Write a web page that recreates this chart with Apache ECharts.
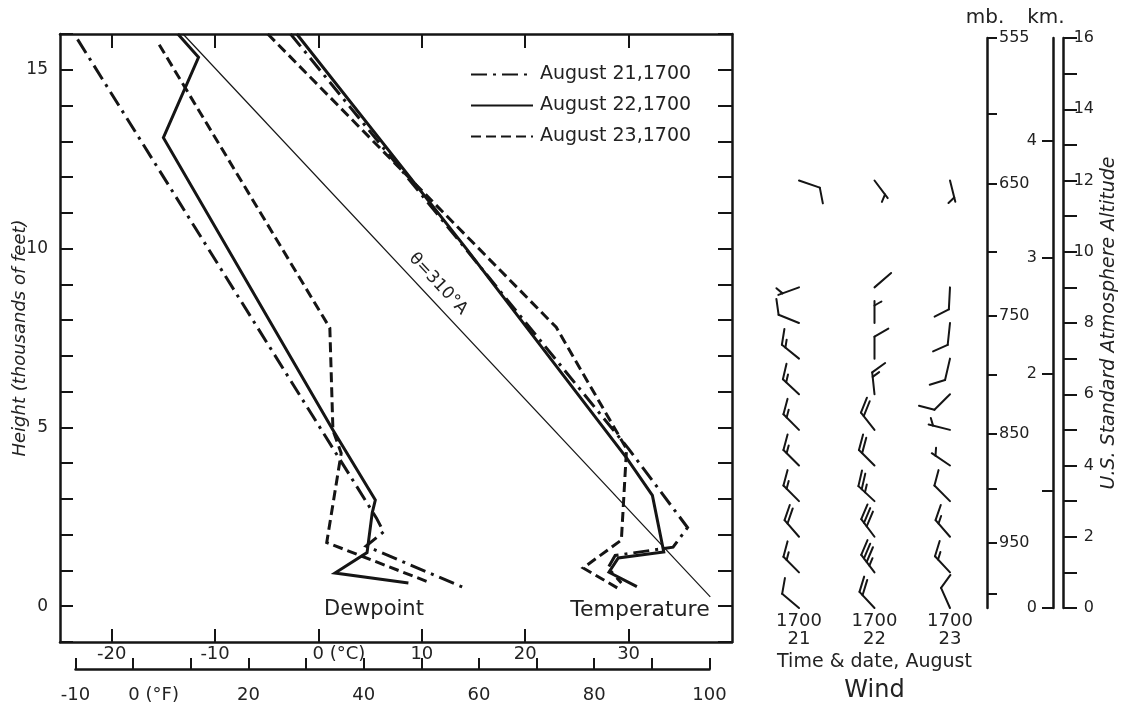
<!DOCTYPE html>
<html><head><meta charset="utf-8">
<script src="https://cdn.jsdelivr.net/npm/echarts@6/dist/echarts.min.js"></script>
<style>html,body{margin:0;padding:0;background:#fff}#c{width:1126px;height:719px}</style>
</head><body><div id="c"></div>
<script>
// ---------- data ----------
const dayNames = ['August 21,1700', 'August 22,1700', 'August 23,1700'];
// [temperature °C, height (thousands of feet)]
const temp21 = [[-2.7,16],[30.0,4.4],[35.7,2.2],[34.3,1.65],[28.7,1.42],[28.0,1.07],[29.3,0.65]];
const temp22 = [[-2.1,16],[14.3,10.0],[29.8,4.15],[32.3,3.1],[33.4,1.52],[29.0,1.35],[28.1,0.95],[30.8,0.55]];
const temp23 = [[-4.9,16],[23.0,7.8],[29.8,4.4],[29.3,1.85],[25.6,1.07],[29.1,0.48]];
const dew21 = [[-23.3,15.85],[5.6,2.47],[6.3,2.08],[4.6,1.68],[13.9,0.54]];
const dew22 = [[-13.6,16],[-11.6,15.35],[-15.0,13.1],[1.4,4.93],[5.5,2.97],[5.2,2.61],[4.7,1.5],[1.6,0.93],[8.7,0.65]];
const dew23 = [[-15.4,15.7],[1.1,7.78],[1.4,4.92],[2.2,4.28],[0.8,1.78],[10.6,0.68]];
const theta310 = [[-13.1,16],[37.9,0.26]];

const cTicks = [-20,-10,0,10,20,30];
const fTickLabels = [-10,0,20,40,60,80,100];
const heightLabels = [0,5,10,15];

const mbLevels  = [555, 600, 650, 700, 750, 800, 850, 900, 950, 1000];
const mbHeights = [16, 13.87, 11.9, 9.99, 8.2, 6.54, 4.88, 3.34, 1.82, 0.39];
const mbLabeled = [555, 650, 750, 850, 950];
const kmTicks = [0,1,2,3,4];
const kmLabels = [0,2,3,4];

// wind: station heights (thousands of feet), direction (deg), speed (knots)
const windHeights = [0,1,2,3,4,5,6,7,8,9,12];
const wind21Dir = [310,315,319,315,315,315,313,309,292,250,109];
const wind21Spd = [10,15,20,15,15,15,15,15,10,5,10];
const wind22Dir = [317,323,323,313,315,322,354,0,0,49,143];
const wind22Spd = [20,35,30,25,20,20,15,10,5,0,5];
const wind23Dir = [336,317,319,315,304,284,225,193,186,183,166];
const wind23Spd = [10,15,15,10,5,5,10,10,10,10,5];
const windDates = [21,22,23];

// ---------- helpers ----------
const FONT = 'DejaVu Sans';
const INK = '#151515';
const windData = [];
[[wind21Dir,wind21Spd],[wind22Dir,wind22Spd],[wind23Dir,wind23Spd]].forEach((w,ci)=>{
  windHeights.forEach((h,i)=>windData.push([windDates[ci], h, w[0][i], w[1][i]]));
});
function mbLabelFor(v){
  let best=0, bd=1e9;
  mbHeights.forEach((h,i)=>{const d=Math.abs(h-v); if(d<bd){bd=d;best=i;}});
  return String(mbLevels[best]);
}
const mbLabelHeights = mbLabeled.map(l=>mbHeights[mbLevels.indexOf(l)]);

function barbRender(params, api){
  const col=api.value(0), h=api.value(1), dir=api.value(2), spd=api.value(3);
  const p = api.coord([col,h]);
  const L=22, F=16, HF=8, gap=4.5;
  const r = dir*Math.PI/180, ux=Math.sin(r), uy=-Math.cos(r);
  const ex=p[0]+ux*L, ey=p[1]+uy*L;
  const br=(dir+60)*Math.PI/180, bx=Math.sin(br), by=-Math.cos(br);
  const st={stroke:INK, lineWidth:2, lineCap:'round'};
  const ch=[{type:'line', shape:{x1:p[0],y1:p[1],x2:ex,y2:ey}, style:st}];
  const n=Math.floor(spd/10), half=(spd%10)>=5;
  let k=0;
  for(let i=0;i<n;i++,k++){
    const sx=ex-ux*gap*k, sy=ey-uy*gap*k;
    ch.push({type:'line', shape:{x1:sx,y1:sy,x2:sx+bx*F,y2:sy+by*F}, style:st});
  }
  if(half){
    const kk = k===0?1:k;
    const sx=ex-ux*gap*kk, sy=ey-uy*gap*kk;
    ch.push({type:'line', shape:{x1:sx,y1:sy,x2:sx+bx*HF,y2:sy+by*HF}, style:st});
  }
  return {type:'group', children:ch};
}

function lineSeries(name, data, dash, width){
  return {type:'line', name, data, xAxisIndex:0, yAxisIndex:0, symbol:'none', color:INK,
    lineStyle:{color:INK, width:width||3, type:dash, cap:'butt', join:'miter'}, silent:true, z:3};
}
const DASHDOT=[16,6,3,6], DASHED=[10,5];

const axisLineStyle={onZero:false, lineStyle:{color:INK,width:2.5}};
const tickStyle={color:INK,width:2};
const labelStyle={color:'#222', fontFamily:FONT, fontSize:18};

const chart = echarts.init(document.getElementById('c'));
chart.setOption({
  animation:false,
  backgroundColor:'#fff',
  grid:[
    {left:60, top:34, width:672, height:608, outerBoundsMode:'none', containLabel:false},
    {left:75.5, top:668, width:634, height:1, outerBoundsMode:'none', containLabel:false},
    {left:987, top:38, width:76, height:570, outerBoundsMode:'none', containLabel:false},
    {left:723.5, top:38, width:302, height:570, outerBoundsMode:'none', containLabel:false}
  ],
  xAxis:[
    {gridIndex:0, type:'value', position:'bottom', min:-25, max:40,
      axisLine:axisLineStyle, splitLine:{show:false},
      axisTick:{customValues:cTicks, inside:true, length:13, lineStyle:tickStyle},
      axisLabel:{customValues:cTicks, margin:3, ...labelStyle,
        formatter:v=> v===0 ? '{z|0 (°C)}' : String(v),
        rich:{z:{padding:[0,0,0,41], fontFamily:FONT, fontSize:18, color:'#222'}}}},
    {gridIndex:0, type:'value', position:'top', min:-25, max:40,
      axisLine:axisLineStyle, splitLine:{show:false},
      axisTick:{customValues:cTicks, inside:true, length:14, lineStyle:tickStyle},
      axisLabel:{show:false}},
    {gridIndex:1, type:'value', position:'bottom', min:-10, max:100, interval:10,
      axisLine:axisLineStyle, splitLine:{show:false},
      axisTick:{inside:true, length:11, lineStyle:tickStyle},
      axisLabel:{customValues:fTickLabels, margin:17, ...labelStyle,
        formatter:v=> v===0 ? '{z|0 (°F)}' : String(v),
        rich:{z:{padding:[0,0,0,41], fontFamily:FONT, fontSize:18, color:'#222'}}}},
    {gridIndex:2, type:'value', show:false, min:0, max:1},
    {gridIndex:3, type:'value', min:20, max:24,
      axisLine:{show:false}, axisTick:{show:false}, splitLine:{show:false},
      axisLabel:{customValues:windDates, margin:4, color:'#222', fontFamily:FONT, fontSize:18, lineHeight:18,
        formatter:v=>'1700\n'+v},
      name:'{a|Time & date, August}\n{b|Wind}', nameLocation:'middle', nameGap:37,
      nameTextStyle:{rich:{a:{fontFamily:FONT, fontSize:19, lineHeight:26, color:'#222'},
                           b:{fontFamily:FONT, fontSize:24, lineHeight:30, color:'#222'}}}}
  ],
  yAxis:[
    {gridIndex:0, type:'value', position:'left', min:-1, max:16, interval:1,
      axisLine:axisLineStyle, splitLine:{show:false},
      axisTick:{inside:true, length:13, lineStyle:tickStyle},
      axisLabel:{customValues:heightLabels, margin:12, ...labelStyle, fontSize:17},
      name:'Height (thousands of feet)', nameLocation:'middle', nameGap:31, nameRotate:90,
      nameMoveOverlap:false,
      nameTextStyle:{fontFamily:FONT, fontSize:18, fontStyle:'italic', color:'#222'}},
    {gridIndex:0, type:'value', position:'right', min:-1, max:16, interval:1,
      axisLine:axisLineStyle, splitLine:{show:false},
      axisTick:{inside:true, length:14, lineStyle:tickStyle},
      axisLabel:{show:false}},
    {gridIndex:1, type:'value', show:false, min:0, max:1},
    {gridIndex:2, type:'value', position:'left', min:0, max:16,
      axisLine:axisLineStyle, splitLine:{show:false},
      axisTick:{customValues:mbHeights, inside:true, length:10, lineStyle:tickStyle},
      axisLabel:{customValues:mbLabelHeights, inside:true, margin:12, color:'#222', fontFamily:FONT, fontSize:16,
        formatter:v=>mbLabelFor(v)}},
    {gridIndex:2, type:'value', position:'right', offset:-10, min:0, max:4.8768,
      axisLine:axisLineStyle, splitLine:{show:false},
      axisTick:{customValues:kmTicks, inside:true, length:11, lineStyle:tickStyle},
      axisLabel:{customValues:kmLabels, inside:true, margin:16, color:'#222', fontFamily:FONT, fontSize:16}},
    {gridIndex:2, type:'value', position:'right', offset:0, min:0, max:16, interval:1,
      axisLine:axisLineStyle, splitLine:{show:false},
      axisTick:{inside:false, length:14, lineStyle:tickStyle},
      axisLabel:{margin:31, align:'right', color:'#222', fontFamily:FONT, fontSize:16,
        formatter:v=> (v%2===0 ? String(v) : '')},
      name:'U.S. Standard Atmosphere Altitude', nameLocation:'middle', nameGap:37, nameRotate:90,
      nameMoveOverlap:false,
      nameTextStyle:{fontFamily:FONT, fontSize:19, fontStyle:'italic', color:'#222'}},
    {gridIndex:3, type:'value', show:false, min:0, max:16}
  ],
  legend:{data:dayNames, orient:'vertical', left:465, top:60, itemWidth:62, itemHeight:14, itemGap:12,
    selectedMode:false, itemStyle:{opacity:0},
    textStyle:{fontFamily:FONT, fontSize:19, color:'#222', padding:[0,0,0,2]}},
  graphic:[
    {type:'text', x:374, y:610, style:{text:'Dewpoint', fontFamily:FONT, fontSize:21, fill:'#222', align:'center', verticalAlign:'middle'}},
    {type:'text', x:640, y:610, style:{text:'Temperature', fontFamily:FONT, fontSize:22, fill:'#222', align:'center', verticalAlign:'middle'}},
    {type:'text', x:438, y:284, rotation:-0.819, style:{text:'θ=310°A', fontFamily:FONT, fontSize:17, fill:'#222', align:'center', verticalAlign:'middle'}},
    {type:'text', x:985, y:18, style:{text:'mb.', fontFamily:FONT, fontSize:20, fill:'#222', align:'center', verticalAlign:'middle'}},
    {type:'text', x:1046, y:18, style:{text:'km.', fontFamily:FONT, fontSize:20, fill:'#222', align:'center', verticalAlign:'middle'}}
  ],
  series:[
    lineSeries(dayNames[0], temp21, DASHDOT),
    lineSeries(dayNames[1], temp22, 'solid'),
    lineSeries(dayNames[2], temp23, DASHED),
    lineSeries(dayNames[0], dew21, DASHDOT),
    lineSeries(dayNames[1], dew22, 'solid'),
    lineSeries(dayNames[2], dew23, DASHED),
    {type:'line', name:'theta', data:theta310, xAxisIndex:0, yAxisIndex:0, symbol:'none', silent:true,
      lineStyle:{color:INK, width:1.2}, z:2},
    {type:'custom', name:'wind', xAxisIndex:4, yAxisIndex:6, data:windData, renderItem:barbRender,
      encode:{x:0,y:1}, silent:true, clip:false}
  ]
});
</script></body></html>
